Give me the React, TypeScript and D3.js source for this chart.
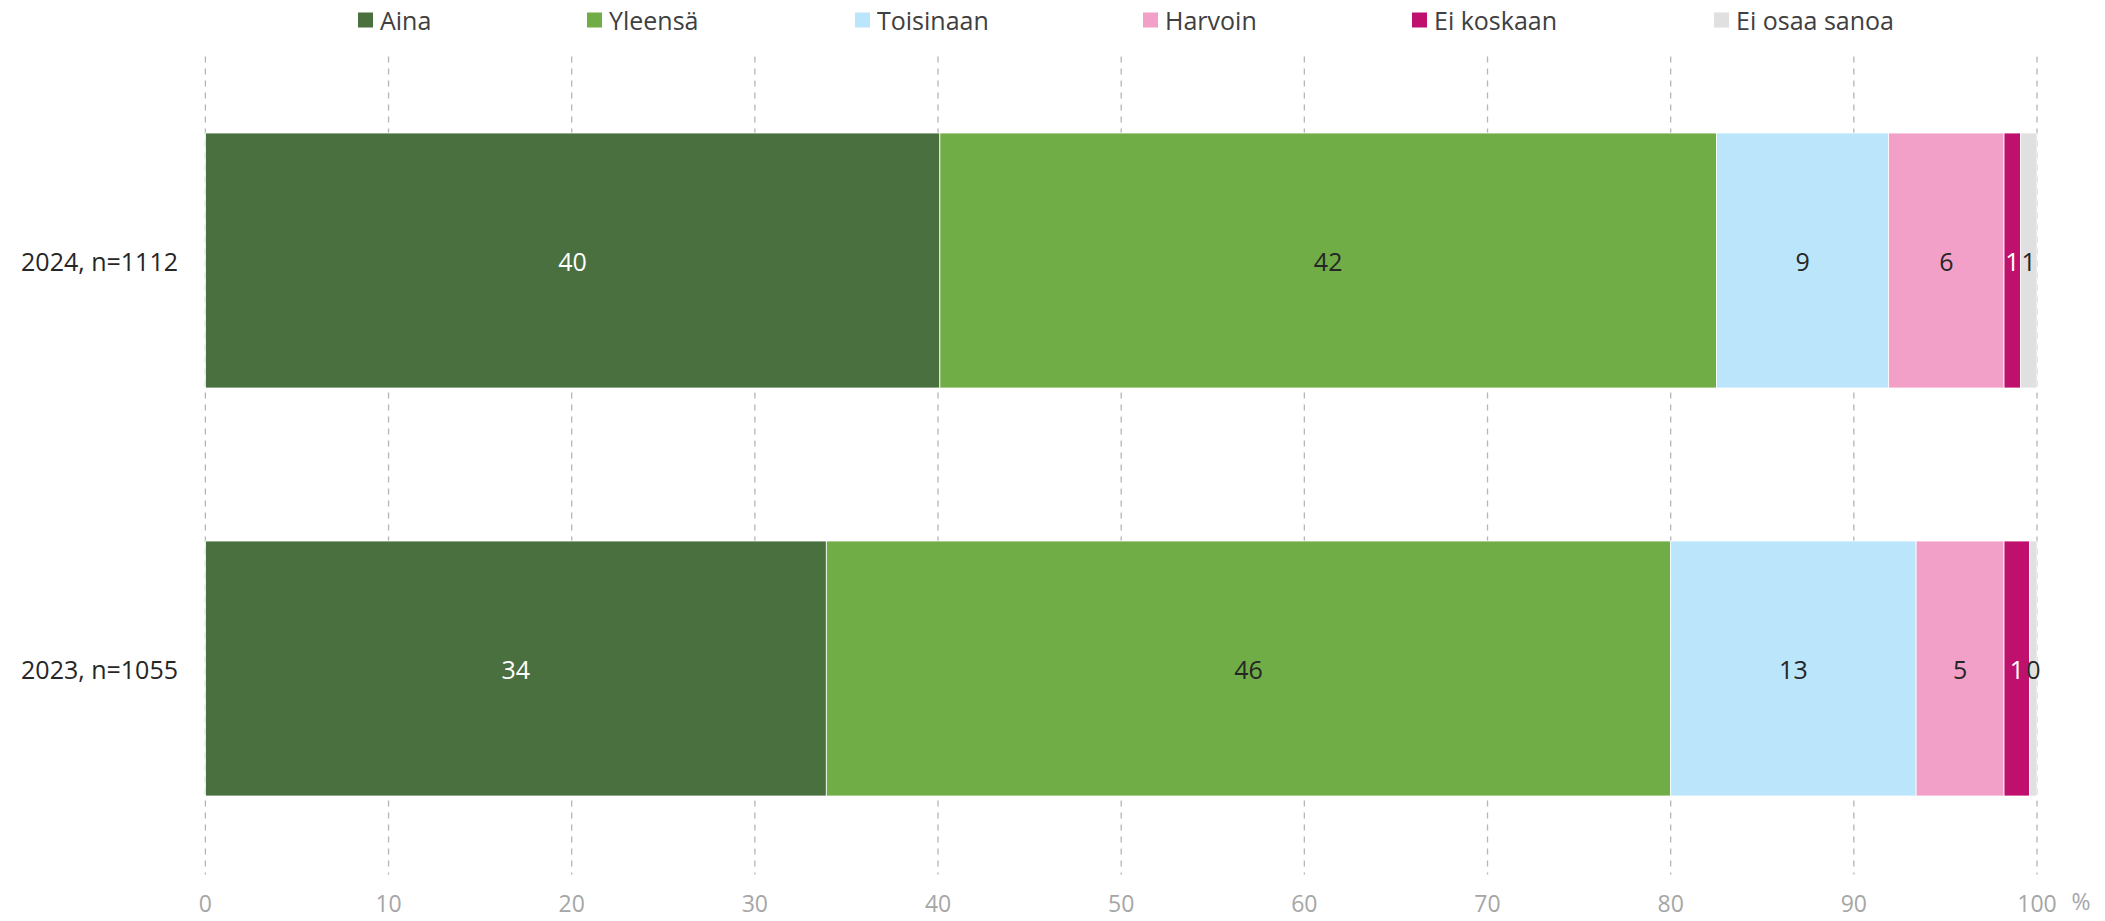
import React from "react";
import * as d3 from "d3";

const categories = ["2024, n=1112", "2023, n=1055"];
const seriesNames = ["Aina", "Yleensä", "Toisinaan", "Harvoin", "Ei koskaan", "Ei osaa sanoa"];
const colors = ["#4a703f", "#70ad47", "#bbe5fa", "#f2a0c8", "#c0106e", "#e0e0e0"];
const labelColors = ["#ffffff", "#262626", "#262626", "#262626", "#ffffff", "#262626"];
// values per category, in series order
const values2024 = [40.1, 42.4, 9.4, 6.3, 0.9, 0.9];
const values2023 = [33.9, 46.1, 13.4, 4.8, 1.4, 0.4];
const labels2024 = ["40", "42", "9", "6", "1", "1"];
const labels2023 = ["34", "46", "13", "5", "1", "0"];
const xTicks = [0, 10, 20, 30, 40, 50, 60, 70, 80, 90, 100];

const width = 2105;
const height = 921;
const marginLeft = 205.4;
const marginRight = 68;
const plotTop = 56.5;
const plotBottom = 872.5;
const font = "'Open Sans', 'Noto Sans', sans-serif";

// legend square x positions (Excel lays them out unevenly)
const legendX = [358, 587, 855, 1143, 1412, 1714];

export default function App() {
  const x = d3.scaleLinear().domain([0, 100]).range([marginLeft, width - marginRight]);
  const y = d3
    .scaleBand()
    .domain(categories)
    .range([plotTop, plotBottom])
    .paddingInner(0.375)
    .paddingOuter(0.1875);

  const rows = [
    { cat: categories[0], vals: values2024, labels: labels2024 },
    { cat: categories[1], vals: values2023, labels: labels2023 },
  ];

  return (
    <div style={{ position: "absolute", left: 0, top: 0 }}>
      <svg width={width} height={height} style={{ display: "block", background: "#fff" }}>
        {/* gridlines */}
        {xTicks.map((t) => (
          <line
            key={t}
            x1={x(t)}
            x2={x(t)}
            y1={plotTop}
            y2={plotBottom + 2}
            stroke="#b5b5b5"
            strokeWidth={1.3}
            strokeDasharray="6,6"
          />
        ))}

        {/* stacked bars */}
        {rows.map((r) => {
          const stack = d3.cumsum(r.vals);
          return (
            <g key={r.cat}>
              {r.vals.map((v, i) => {
                const x0 = x(i === 0 ? 0 : stack[i - 1]);
                const x1 = x(stack[i]);
                return (
                  <rect
                    key={i}
                    x={x0}
                    y={y(r.cat)}
                    width={x1 - x0}
                    height={y.bandwidth()}
                    fill={colors[i]}
                    stroke="#ffffff"
                    strokeWidth={0.8}
                  />
                );
              })}
              {r.vals.map((v, i) => {
                const x0 = x(i === 0 ? 0 : stack[i - 1]);
                const x1 = x(stack[i]);
                return (
                  <text
                    key={"l" + i}
                    x={(x0 + x1) / 2}
                    y={(y(r.cat) as number) + y.bandwidth() / 2}
                    textAnchor="middle"
                    dominantBaseline="central"
                    fontFamily={font}
                    fontSize={25}
                    fill={labelColors[i]}
                  >
                    {r.labels[i]}
                  </text>
                );
              })}
              <text
                x={178}
                y={(y(r.cat) as number) + y.bandwidth() / 2}
                textAnchor="end"
                dominantBaseline="central"
                fontFamily={font}
                fontSize={25}
                fill="#262626"
              >
                {r.cat}
              </text>
            </g>
          );
        })}

        {/* x tick labels */}
        {xTicks.map((t) => (
          <text
            key={"t" + t}
            x={x(t)}
            y={903}
            textAnchor="middle"
            dominantBaseline="central"
            fontFamily={font}
            fontSize={23}
            fill="#a6a6a6"
          >
            {t}
          </text>
        ))}
        <text
          x={2081}
          y={901}
          textAnchor="middle"
          dominantBaseline="central"
          fontFamily={font}
          fontSize={23}
          fill="#a6a6a6"
        >
          %
        </text>

        {/* legend */}
        {seriesNames.map((s, i) => (
          <g key={s} transform={`translate(${legendX[i]},20)`}>
            <rect x={0} y={-7.5} width={15} height={15} fill={colors[i]} />
            <text
              x={22}
              y={0}
              dominantBaseline="central"
              fontFamily={font}
              fontSize={25}
              fill="#404040"
            >
              {s}
            </text>
          </g>
        ))}
      </svg>
    </div>
  );
}
